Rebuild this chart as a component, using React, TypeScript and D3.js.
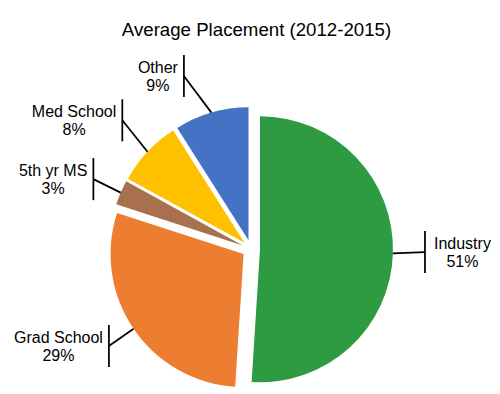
import React from "react";
import * as d3 from "d3";

const categories = ["Industry", "Grad School", "5th yr MS", "Med School", "Other"];
const values = [51, 29, 3, 8, 9];
const colors = ["#2E9A41", "#ED7D31", "#A9704D", "#FFC000", "#4472C4"];
const title = "Average Placement (2012-2015)";

// label placement (polar, relative to the pie centre): [angle in degrees, radius]
const labelPolar: [number, number][] = [
  [91, 174],
  [235.7, 172],
  [293.9, 172.4],
  [315, 182],
  [338.8, 185.5],
];

const W = 500;
const H = 394;
const CX = 251;
const CY = 249;
const R = 133;
const EXPLODE = 9;
const FONT = "'Liberation Sans', Arial, sans-serif";

function measure(text: string, size: number): number {
  if (typeof document === "undefined") return text.length * size * 0.5;
  const c = document.createElement("canvas");
  const ctx = c.getContext("2d");
  if (!ctx) return text.length * size * 0.5;
  ctx.font = `${size}px ${FONT}`;
  return ctx.measureText(text).width;
}

export default function App() {
  const total = d3.sum(values);
  const pie = d3.pie<number>().sort(null).value((d) => d).startAngle(0).endAngle(2 * Math.PI);
  const arcs = pie(values);
  const arcGen = d3.arc<d3.PieArcDatum<number>>().innerRadius(0).outerRadius(R);
  const fmt = d3.format(".0%");

  return (
    <svg width={W} height={H} style={{ position: "absolute", left: 0, top: 0, background: "#fff" }}>
      <rect x={0} y={0} width={W} height={H} fill="#fff" />
      <text x={256.5} y={36} textAnchor="middle" fontFamily={FONT} fontSize={18.67} fill="#000">
        {title}
      </text>
      {arcs.map((a, i) => {
        const mid = (a.startAngle + a.endAngle) / 2;
        const ox = EXPLODE * Math.sin(mid);
        const oy = -EXPLODE * Math.cos(mid);
        const sx = CX + ox + R * Math.sin(mid);
        const sy = CY + oy - R * Math.cos(mid);
        const [angDeg, rad] = labelPolar[i];
        const ang = (angDeg * Math.PI) / 180;
        const bx = CX + rad * Math.sin(ang);
        const by = CY - rad * Math.cos(ang);
        const line1 = categories[i];
        const line2 = fmt(values[i] / total);
        const w = Math.max(measure(line1, 16), measure(line2, 16));
        const right = bx > CX;
        const tx = right ? bx + 9 + w / 2 : bx - 6 - w / 2;
        return (
          <g key={categories[i]}>
            <path d={arcGen(a) || ""} transform={`translate(${CX + ox},${CY + oy})`} fill={colors[i]} />
            <line x1={sx} y1={sy} x2={bx} y2={by} stroke="#000" strokeWidth={1.75} />
            <line x1={bx} y1={by - 21} x2={bx} y2={by + 21} stroke="#000" strokeWidth={1.75} />
            <text x={tx} y={by - 3} textAnchor="middle" fontFamily={FONT} fontSize={16} fill="#000">
              {line1}
            </text>
            <text x={tx} y={by + 15} textAnchor="middle" fontFamily={FONT} fontSize={16} fill="#000">
              {line2}
            </text>
          </g>
        );
      })}
    </svg>
  );
}
